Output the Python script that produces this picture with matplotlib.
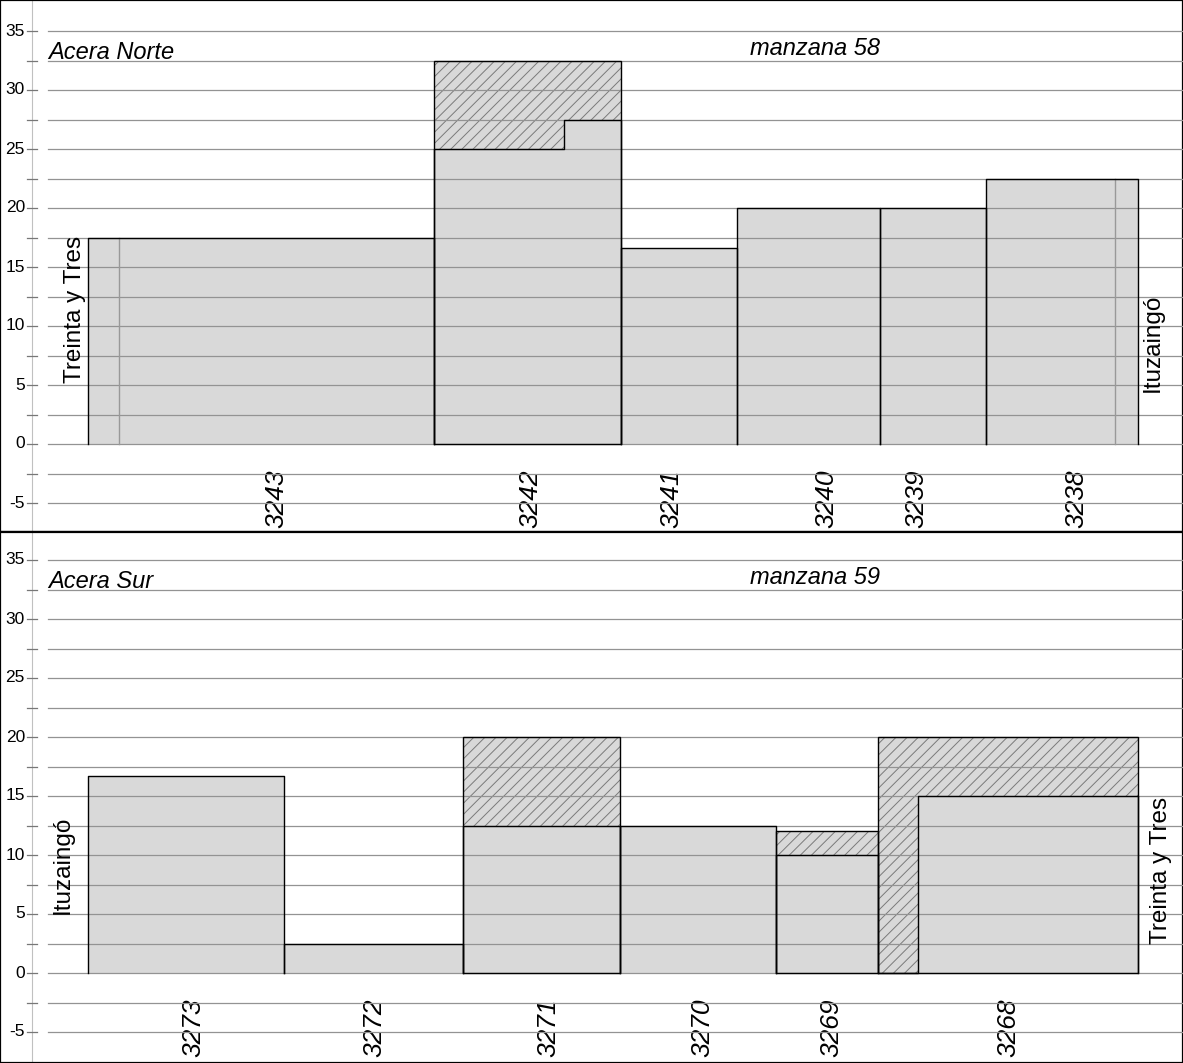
import matplotlib
matplotlib.use("Agg")
import matplotlib.pyplot as plt
from matplotlib import transforms

plt.rcParams['font.family'] = ['Liberation Sans', 'DejaVu Sans']
plt.rcParams['hatch.linewidth'] = 0.7

# ---------------- data ----------------
# Acera Norte (manzana 58)
top_lots = ['3243', '3242', '3241', '3240', '3239', '3238']
top_widths = [29.3, 15.85, 9.83, 12.12, 8.98, 12.88]
# solid profile per lot: list of (segment width, height)
top_solid = [[(29.3, 17.5)],
             [(11.0, 25.0), (4.85, 27.5)],
             [(9.83, 16.6)],
             [(12.12, 20.0)],
             [(8.98, 20.0)],
             [(12.88, 22.5)]]
top_hatch = [None, 32.5, None, None, None, None]
top_label_x = [16.0, 37.5, 49.4, 62.6, 70.2, 83.8]
top_ochava_x = [2.63, 87.03]
top_ochava_h = [17.5, 22.5]

# Acera Sur (manzana 59)
bot_lots = ['3273', '3272', '3271', '3270', '3269', '3268']
bot_widths = [16.61, 15.17, 13.30, 13.22, 8.64, 22.03]
bot_solid = [[(16.61, 16.67)],
             [(15.17, 2.5)],
             [(13.30, 12.5)],
             [(13.22, 12.5)],
             [(8.64, 10.0)],
             [(3.39, 0.0), (18.64, 15.0)]]
bot_hatch = [None, None, 20.0, None, 12.0, 20.0]
bot_label_x = [8.9, 24.3, 39.0, 52.1, 63.0, 78.0]

yticks_major = [-5, 0, 5, 10, 15, 20, 25, 30, 35]
grid_levels = [-5, -2.5, 0, 2.5, 5, 7.5, 10, 12.5, 15, 17.5, 20, 22.5,
               25, 27.5, 30, 32.5, 35]

W, H = 1183, 1063
fig = plt.figure(figsize=(W / 100, H / 100), dpi=100)

FILL = '#d9d9d9'
XLIM = (-88 / 11.8, (W - 88) / 11.8)


def panel(ax, lots, widths, solid, hatch, label_x, ylim, acera, manzana,
          left_street, left_xy, right_street, right_xy, ochava=None):
    ax.set_xlim(*XLIM)
    ax.set_ylim(*ylim)
    ax.set_xticks([])
    ax.set_yticks([])
    for s in ax.spines.values():
        s.set_linewidth(1.6)
        s.set_color('black')
    bt = transforms.blended_transform_factory(ax.transAxes, ax.transData)
    # axis line and ticks
    ax.plot([32 / W, 32 / W], [0, 1], transform=ax.transAxes,
            color='#c0c0c0', lw=0.8, zorder=1)
    for g in grid_levels:
        ax.plot([27 / W, 37 / W], [g, g], transform=bt, color='#777777',
                lw=0.9, zorder=1)
        ax.plot([48 / W, 1.0], [g, g], transform=bt, color='#939393',
                lw=0.9, zorder=4)
    for t in yticks_major:
        ax.text(25 / W, t, str(t), transform=bt, ha='right', va='center',
                fontsize=12.5, color='black')
    x0 = 0.0
    for lot, w, segs, hh, lx in zip(lots, widths, solid, hatch, label_x):
        if hh is not None:
            ax.bar(x0, hh, w, align='edge', facecolor=FILL,
                   edgecolor='#7a7a7a', hatch='///', linewidth=0, zorder=2)
            ax.bar(x0, hh, w, align='edge', facecolor='none',
                   edgecolor='black', linewidth=1.0, zorder=5)
        xs, ys = [x0], [0.0]
        xc = x0
        for sw, sh in segs:
            xs += [xc, xc + sw]
            ys += [sh, sh]
            xc += sw
        xs.append(xc)
        ys.append(0.0)
        ax.fill(xs, ys, facecolor=FILL, edgecolor='none', zorder=3)
        ax.plot(xs, ys, color='black', lw=1.0, zorder=5)
        ax.text(lx, -4.6, lot, rotation=90, ha='center', va='center',
                fontsize=19, style='italic', color='black')
        x0 += w
    if ochava:
        for ox, oh in zip(*ochava):
            ax.plot([ox, ox], [0, oh], color='#999999', lw=1.0, zorder=4)
    ax.text(48 / W, 33.2, acera, transform=bt, ha='left', va='center',
            fontsize=17, style='italic')
    ax.text(61.6, 33.5, manzana, ha='center', va='center', fontsize=17,
            style='italic')
    ax.text(left_xy[0], left_xy[1], left_street, rotation=90, ha='center',
            va='center', fontsize=17.5, zorder=6)
    ax.text(right_xy[0], right_xy[1], right_street, rotation=90, ha='center',
            va='center', fontsize=17.5, zorder=6)


ax1 = fig.add_axes([0, (H - 532) / H, 1, 532 / H])
panel(ax1, top_lots, top_widths, top_solid, top_hatch, top_label_x,
      ((444 - 532) / 11.8, 444 / 11.8), 'Acera Norte', 'manzana 58',
      'Treinta y Tres', (-1.1, 11.4), 'Ituzaingó', (90.2, 8.6),
      ochava=(top_ochava_x, top_ochava_h))

ax2 = fig.add_axes([0, 0, 1, (H - 532) / H])
panel(ax2, bot_lots, bot_widths, bot_solid, bot_hatch, bot_label_x,
      ((973 - 1063) / 11.8, (973 - 532) / 11.8), 'Acera Sur', 'manzana 59',
      'Ituzaingó', (-2.1, 9.15), 'Treinta y Tres', (90.9, 8.7))

fig.savefig('out.png', dpi=100)
